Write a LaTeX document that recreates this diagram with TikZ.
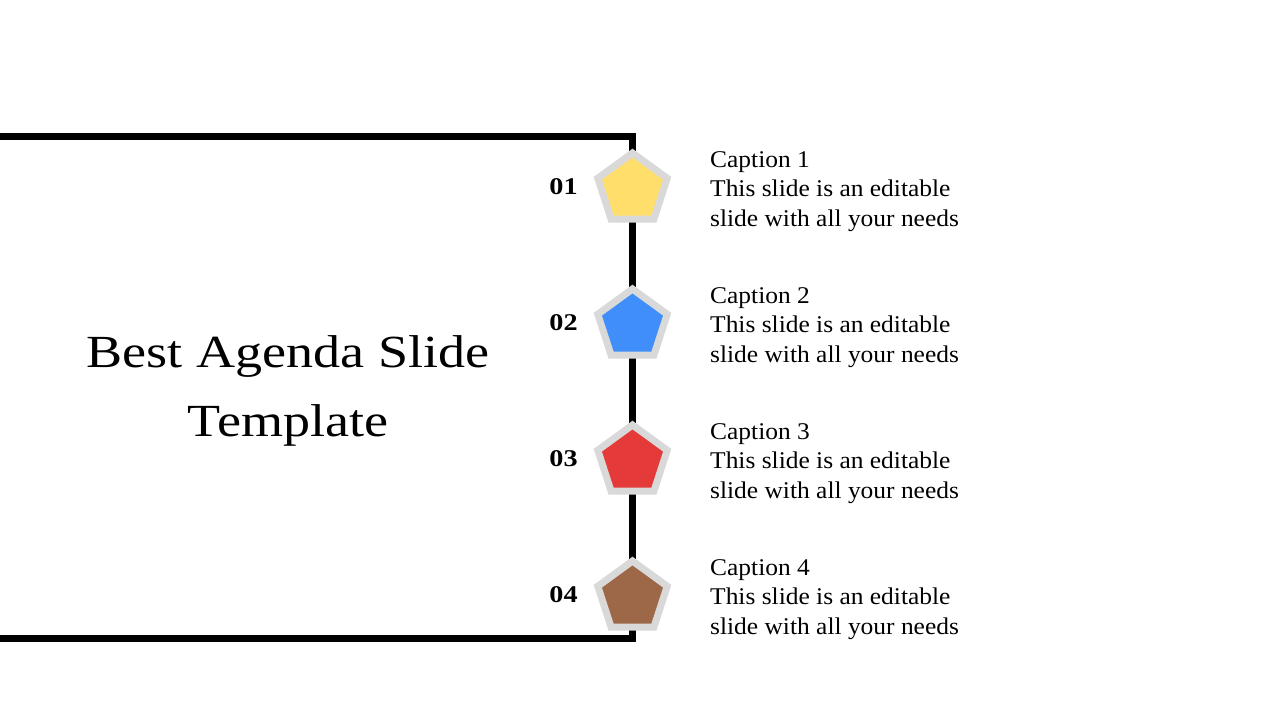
\documentclass[tikz,border=0pt]{standalone}
\usepackage{fontspec}
\setmainfont[FakeStretch=1.06]{Liberation Serif}
\newfontfamily\titlefont[FakeStretch=1.176]{Liberation Serif}
\usetikzlibrary{shapes.geometric}

\definecolor{capyellow}{HTML}{FFDE6B}
\definecolor{capblue}{HTML}{3F8EFA}
\definecolor{capred}{HTML}{E53A3A}
\definecolor{capbrown}{HTML}{9C6847}
\definecolor{rimgrey}{HTML}{D9D9D9}

\begin{document}
\begin{tikzpicture}[
  x=1pt, y=-1pt,
  every node/.style={inner sep=0pt},
  pent/.style={
    regular polygon, regular polygon sides=5,
    minimum size=73pt, draw=rimgrey, line width=7pt, fill=#1
  },
  num/.style={
    font=\titlefont\fontsize{24}{24}\selectfont\bfseries, anchor=base
  },
  captext/.style={
    font=\fontsize{24}{29.5}\selectfont, align=left, anchor=north west
  }
  ]
  \useasboundingbox (0,0) rectangle (1280,720);
  % frame
  \coordinate (tl) at (0,136);
  \coordinate (tc) at (632,136);
  \coordinate (tr) at (632,132.5);
  \coordinate (br) at (632,641.5);
  \coordinate (bl) at (0,638);
  \coordinate (bc) at (632,638);
  \draw[line width=7pt] (tl) -- (tc) (tr) -- (br) (bl) -- (bc);
  % title
  \node[font=\titlefont\fontsize{46}{69}\selectfont, align=center] (title)
    at (288,391) {Best Agenda Slide\\Template};
  % agenda items
  \foreach \k/\col in {1/capyellow, 2/capblue, 3/capred, 4/capbrown}{
    \node[pent=\col] (p\k) at (632.5,{189.5+136*(\k-1)}) {};
    \node[num] (n\k) at (563.5,{194+136*(\k-1)}) {0\k};
    \node[captext] (c\k) at (710,{151+136*(\k-1)})
      {Caption \k\\This slide is an editable\\slide with all your needs};
  }
\end{tikzpicture}
\end{document}
